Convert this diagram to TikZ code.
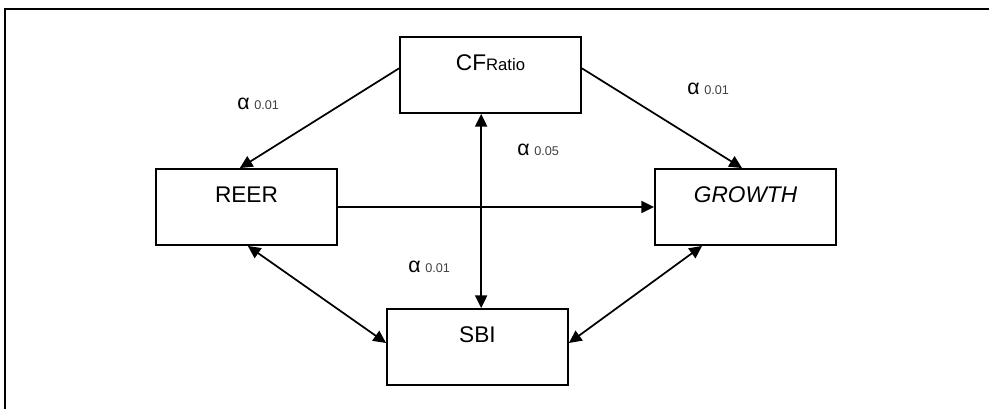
\documentclass[tikz,border=0pt]{standalone}
\usepackage{fontspec}
\setmainfont{Liberation Sans}
\usetikzlibrary{arrows.meta}

\tikzset{
    caja/.style={draw, line width=1.4pt, minimum width=135.75pt, minimum height=57pt,
        inner sep=0pt, text height=12pt, text depth=18pt, font=\fontsize{17}{18}\selectfont},
    flecha/.style={line width=1.3pt, -{Triangle[length=9.5pt,width=9pt]}},
    dobleflecha/.style={line width=1.3pt, {Triangle[length=9.5pt,width=9pt]}-{Triangle[length=9.5pt,width=9pt]}},
    etiqueta/.style={anchor=base west, inner sep=0pt}
}
\newcommand{\alfa}[1]{{\fontsize{16}{17}\selectfont α}\hspace{3.5pt}{\fontsize{9.5}{10}\selectfont\color{black!75}#1}}

\begin{document}
\begin{tikzpicture}[x=0.75pt, y=-0.75pt]

    \useasboundingbox (0,0) rectangle (989,409);

    % marco
    \draw[line width=1.4pt] (5,409) -- (5,9) -- (989,9);

    % cajas
    \node[caja] (cf) at (490.5,75) {CF{\fontsize{12.5}{13}\selectfont Ratio}};
    \node[caja] (reer) at (246.5,207) {REER};
    \node[caja] (growth) at (745.5,207) {\itshape GROWTH};
    \node[caja] (sbi) at (477.5,347) {SBI};

    % flechas
    \draw[flecha] ([yshift=5pt]cf.west) -- ([xshift=-5pt]reer.north);
    \draw[flecha] ([yshift=5pt]cf.east) -- ([xshift=-2.6pt]growth.north);
    \draw[flecha] (reer.east) -- (growth.west);
    \draw[dobleflecha] ([xshift=-7pt]cf.south) coordinate (v) -- (v |- sbi.north);
    \draw[dobleflecha] ([xshift=1pt]reer.south) -- ([yshift=3pt]sbi.west);
    \draw[dobleflecha] ([xshift=-32.6pt]growth.south) -- ([yshift=3pt]sbi.east);

    % niveles de significancia
    \node[etiqueta] (a1) at (237,110) {\alfa{0.01}};
    \node[etiqueta] (a2) at (687,95) {\alfa{0.01}};
    \node[etiqueta] (a3) at (517,156) {\alfa{0.05}};
    \node[etiqueta] (a4) at (408,273) {\alfa{0.01}};
\end{tikzpicture}
\end{document}
